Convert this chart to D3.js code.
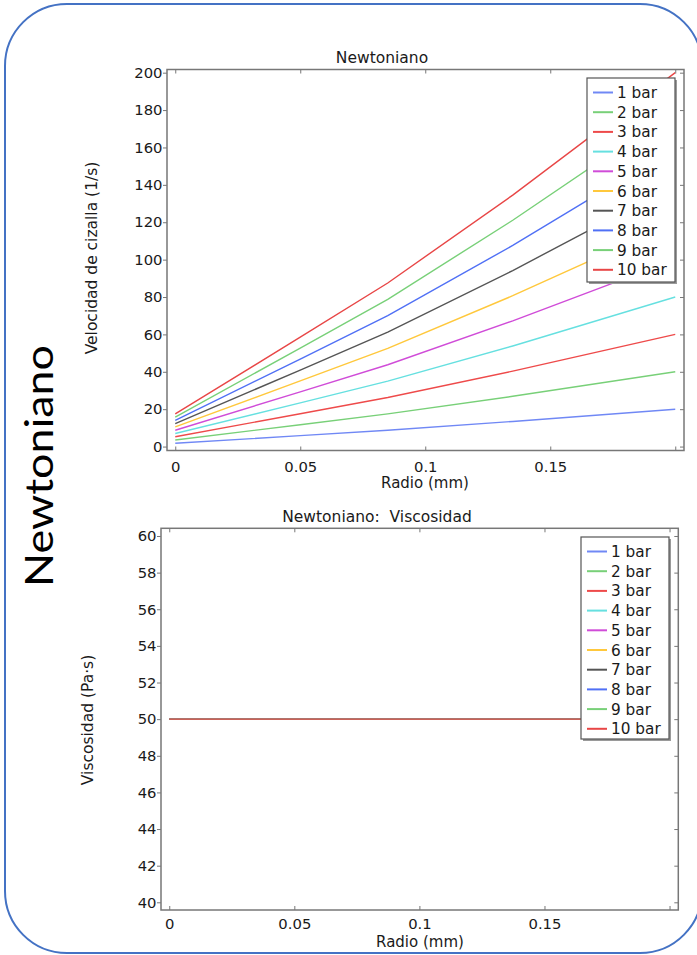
<!DOCTYPE html>
<html>
<head>
<meta charset="utf-8">
<script src="https://cdn.jsdelivr.net/npm/d3@7"></script>
<style>
  html, body { margin: 0; padding: 0; background: #fff; }
  svg { display: block; }
  text { font-family: "DejaVu Sans", sans-serif; fill: #1a1a1a; }
</style>
</head>
<body>
<svg id="fig" width="697" height="955"></svg>
<script>
// Radial positions (mm) where the shear-rate profiles are sampled
const radius = [0, 0.05, 0.085, 0.135, 0.2];

// Shear rate (1/s) for each applied pressure
const rate1  = [1.75, 5.85, 8.75, 13.45, 20];
const rate2  = [3.5, 11.7, 17.5, 26.9, 40];
const rate3  = [5.25, 17.55, 26.25, 40.35, 60];
const rate4  = [7, 23.4, 35, 53.8, 80];
const rate5  = [8.75, 29.25, 43.75, 67.25, 100];
const rate6  = [10.5, 35.1, 52.5, 80.7, 120];
const rate7  = [12.25, 40.95, 61.25, 94.15, 140];
const rate8  = [14, 46.8, 70, 107.6, 160];
const rate9  = [15.75, 52.65, 78.75, 121.05, 180];
const rate10 = [17.5, 58.5, 87.5, 134.5, 200];

// Viscosity (Pa·s): constant for a Newtonian fluid
const radiusVisc = [0, 0.2];
const visc1  = [50, 50];
const visc2  = [50, 50];
const visc3  = [50, 50];
const visc4  = [50, 50];
const visc5  = [50, 50];
const visc6  = [50, 50];
const visc7  = [50, 50];
const visc8  = [50, 50];
const visc9  = [50, 50];
const visc10 = [50, 50];

const seriesNames = ["1 bar", "2 bar", "3 bar", "4 bar", "5 bar",
                     "6 bar", "7 bar", "8 bar", "9 bar", "10 bar"];
const seriesColors = ["#7088f5", "#78d078", "#ee4a4a", "#66e0e0", "#d04cd8",
                      "#ffc83c", "#555555", "#5070f5", "#78d078", "#e84646"];

const xTicks = [0, 0.05, 0.1, 0.15, 0.2];
const xTickLabels = ["0", "0.05", "0.1", "0.15", ""];
const rateTicks = [0, 20, 40, 60, 80, 100, 120, 140, 160, 180, 200];
const viscTicks = [40, 42, 44, 46, 48, 50, 52, 54, 56, 58, 60];

const rateSeries = [rate1, rate2, rate3, rate4, rate5, rate6, rate7, rate8, rate9, rate10];
const viscSeries = [visc1, visc2, visc3, visc4, visc5, visc6, visc7, visc8, visc9, visc10];

const svg = d3.select("#fig");

// Rounded slide frame
svg.append("rect")
  .attr("x", 5).attr("y", 4).attr("width", 697).attr("height", 949)
  .attr("rx", 62).attr("ry", 62)
  .attr("fill", "none").attr("stroke", "#4472c4").attr("stroke-width", 2);

// Vertical section heading
svg.append("text")
  .attr("transform", "translate(53,466) rotate(-90)")
  .attr("text-anchor", "middle")
  .attr("textLength", 242)
  .attr("lengthAdjust", "spacingAndGlyphs")
  .style("font-family", "Lato, 'Liberation Sans', sans-serif")
  .style("font-size", "39px")
  .style("fill", "#000")
  .text("Newtoniano");

function drawPanel(cfg) {
  const g = svg.append("g");
  const x = d3.scaleLinear().domain(cfg.xDomain).range([cfg.left, cfg.right]);
  const y = d3.scaleLinear().domain(cfg.yDomain).range([cfg.bottom, cfg.top]);

  // Data lines
  const line = d3.line().x(d => x(d[0])).y(d => y(d[1]));
  cfg.series.forEach((vals, i) => {
    const pts = cfg.xs.map((r, j) => [r, vals[j]]);
    g.append("path").datum(pts)
      .attr("d", line)
      .attr("fill", "none")
      .attr("stroke", seriesColors[i])
      .attr("stroke-width", 1.4);
  });

  const fmtX = d => xTickLabels[xTicks.indexOf(d)];

  // Left axis: outward ticks with labels
  const left = g.append("g").attr("transform", `translate(${cfg.left},0)`)
    .call(d3.axisLeft(y).tickValues(cfg.yTicks).tickSizeInner(4).tickSizeOuter(0).tickPadding(0.5));
  // Bottom axis: ticks pointing up into the plot, labels below
  const bottom = g.append("g").attr("transform", `translate(0,${cfg.bottom})`)
    .call(d3.axisBottom(x).tickValues(xTicks).tickFormat(fmtX).tickSizeInner(-4).tickSizeOuter(0).tickPadding(cfg.xPad));
  // Top and right axes: inward ticks only
  const top = g.append("g").attr("transform", `translate(0,${cfg.top})`)
    .call(d3.axisTop(x).tickValues(xTicks).tickFormat("").tickSizeInner(-4).tickSizeOuter(0));
  const right = g.append("g").attr("transform", `translate(${cfg.right},0)`)
    .call(d3.axisRight(y).tickValues(cfg.yTicks).tickFormat("").tickSizeInner(-4).tickSizeOuter(0));

  [left, bottom, top, right].forEach(a => {
    a.select(".domain").remove();
    a.selectAll(".tick line").attr("stroke", "#777").attr("stroke-width", 1);
    a.selectAll(".tick text").style("font-family", "'DejaVu Sans', sans-serif")
      .style("font-size", "14.8px").attr("fill", "#1a1a1a");
  });

  // Plot frame
  g.append("rect")
    .attr("x", cfg.left).attr("y", cfg.top)
    .attr("width", cfg.right - cfg.left).attr("height", cfg.bottom - cfg.top)
    .attr("fill", "none").attr("stroke", "#777").attr("stroke-width", 1.5);

  // Titles
  g.append("text").attr("x", cfg.titleX).attr("y", cfg.titleY)
    .attr("text-anchor", "middle").style("font-size", "15.5px")
    .style("white-space", "pre").attr("xml:space", "preserve").text(cfg.title);
  g.append("text").attr("x", cfg.xLabelX).attr("y", cfg.xLabelY)
    .attr("text-anchor", "middle").style("font-size", "15px").text("Radio (mm)");
  g.append("text")
    .attr("transform", `translate(${cfg.yLabelX},${cfg.yLabelY}) rotate(-90)`)
    .attr("text-anchor", "middle").style("font-size", "15.5px").text(cfg.yLabel);

  // Legend
  const lg = g.append("g").attr("transform", `translate(${cfg.legX},${cfg.legY})`);
  const rowH = 19.7;
  lg.append("rect").attr("x", 2).attr("y", 2).attr("width", cfg.legW).attr("height", cfg.legH)
    .attr("fill", "#9a9a9a");
  lg.append("rect").attr("x", 0).attr("y", 0).attr("width", cfg.legW).attr("height", cfg.legH)
    .attr("fill", "#fff").attr("stroke", "#555").attr("stroke-width", 1.2);
  seriesNames.forEach((name, i) => {
    const yy = 14.5 + i * rowH;
    lg.append("line").attr("x1", 6).attr("x2", 26).attr("y1", yy).attr("y2", yy)
      .attr("stroke", seriesColors[i]).attr("stroke-width", 2);
    lg.append("text").attr("x", 30).attr("y", yy + 5.5)
      .style("font-size", "15.3px").text(name);
  });
}

drawPanel({
  left: 167, right: 684, top: 69.5, bottom: 450.5,
  xDomain: [-0.0033, 0.2035], yDomain: [-2.1, 201.7],
  xs: radius, series: rateSeries, yTicks: rateTicks, xPad: 10.5,
  title: "Newtoniano", titleX: 382, titleY: 63,
  xLabelX: 425, xLabelY: 488,
  yLabel: "Velocidad de cizalla (1/s)", yLabelX: 97, yLabelY: 258,
  legX: 587, legY: 78, legW: 88, legH: 204
});

drawPanel({
  left: 161, right: 678.3, top: 528.3, bottom: 910,
  xDomain: [-0.0033, 0.2035], yDomain: [39.58, 60.42],
  xs: radiusVisc, series: viscSeries, yTicks: viscTicks, xPad: 8,
  title: "Newtoniano:  Viscosidad", titleX: 377, titleY: 522,
  xLabelX: 420, xLabelY: 946.5,
  yLabel: "Viscosidad (Pa·s)", yLabelX: 93, yLabelY: 720,
  legX: 581, legY: 537, legW: 88, legH: 202
});
</script>
</body>
</html>
